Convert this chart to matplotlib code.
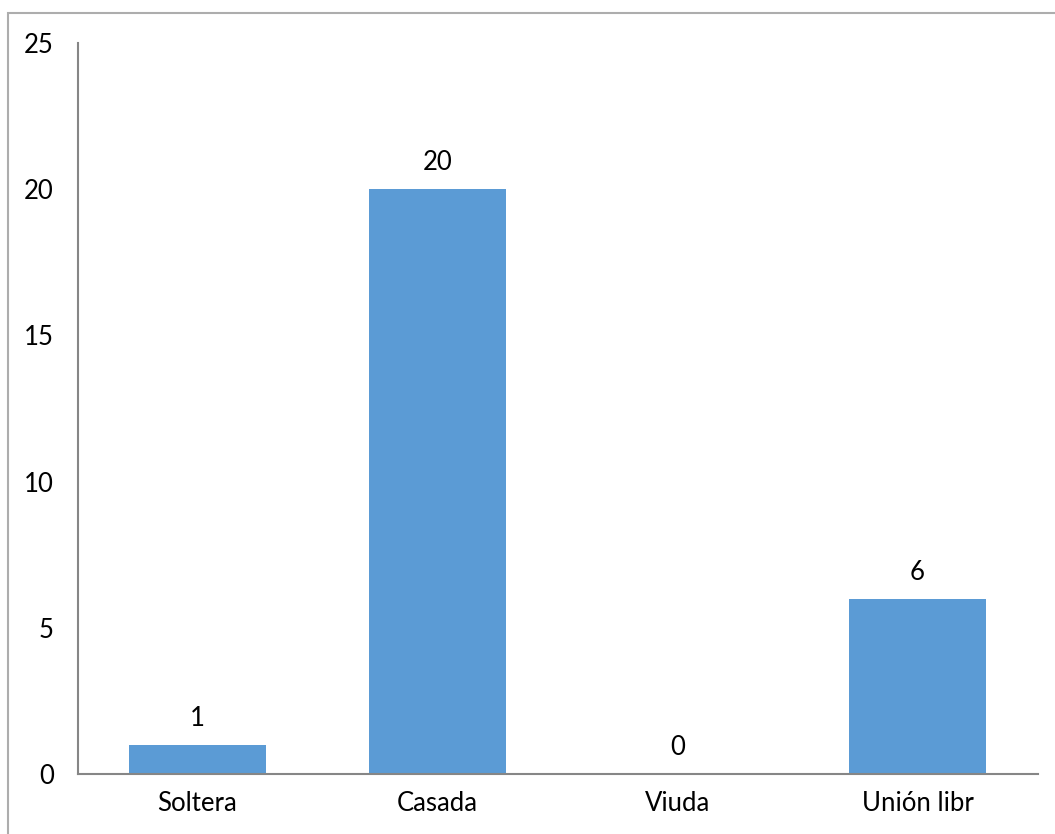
import matplotlib
matplotlib.use("Agg")
import matplotlib.pyplot as plt
from matplotlib.patches import Rectangle

categories = ["Soltera", "Casada", "Viuda", "Unión libr"]
values = [1, 20, 0, 6]
yticks = [0, 5, 10, 15, 20, 25]

plt.rcParams['font.family'] = ['Lato', 'DejaVu Sans']
FS = 18.5

fig = plt.figure(figsize=(10.55, 8.34), dpi=100)
ax = fig.add_axes([77.5/1055, 1-774/834, 960/1055, 731/834])

x = list(range(len(categories)))
bars = ax.bar(x, values, width=0.57, color="#5B9BD5", zorder=2)
ax.set_xlim(-0.5, len(categories)-0.5)
ax.set_ylim(0, 25)
ax.set_yticks(yticks)
ax.set_yticklabels([str(t) for t in yticks], fontsize=FS)
ax.set_xticks(x)
ax.set_xticklabels(categories, fontsize=FS)
ax.tick_params(axis='both', length=0)
ax.tick_params(axis='y', pad=17)
ax.tick_params(axis='x', pad=12)
for s in ['top', 'right']:
    ax.spines[s].set_visible(False)
for s in ['left', 'bottom']:
    ax.spines[s].set_color('#868686')
    ax.spines[s].set_linewidth(1.5)

for xi, v in zip(x, values):
    ax.annotate(str(v), (xi, v), xytext=(0, 19), textcoords='offset points',
                ha='center', va='center', fontsize=FS)

fig.patches.append(Rectangle((8/1055, -0.1), 1.2, 1-13/834+0.1,
                             transform=fig.transFigure, fill=False,
                             edgecolor='#ADADAD', linewidth=1.5))
fig.savefig("out.png", dpi=100)
